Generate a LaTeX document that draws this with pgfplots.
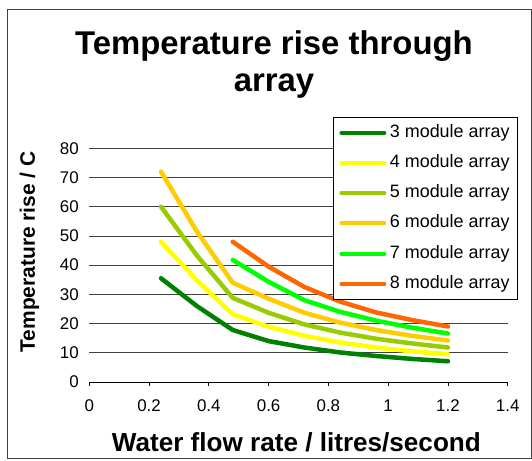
\documentclass[border=0pt]{standalone}
\usepackage{fontspec}
\setmainfont{Liberation Sans}
\usepackage{pgfplots}
\pgfplotsset{compat=1.18}
\definecolor{c3}{HTML}{008000}
\definecolor{c4}{HTML}{FFFF00}
\definecolor{c5}{HTML}{99CC00}
\definecolor{c6}{HTML}{FFCC00}
\definecolor{c7}{HTML}{00FF00}
\definecolor{c8}{HTML}{FF6600}
\begin{document}
\begin{tikzpicture}
\path[use as bounding box] (0bp,0bp) rectangle (532bp,461bp);
\draw[line width=1bp, black!75] (7.5bp,2bp) rectangle (531bp,451bp);
\node[anchor=base, font=\bfseries\fontsize{33}{37}\selectfont] at (274bp,406bp) {Temperature rise through};
\node[anchor=base, font=\bfseries\fontsize{33}{37}\selectfont] at (274bp,369bp) {array};
\begin{axis}[
  at={(89.3bp,79bp)}, anchor=south west,
  scale only axis, width=418.4bp, height=233.7bp,
  xmin=0, xmax=1.4, ymin=0, ymax=80,
  xtick={0,0.2,...,1.4}, ytick={0,10,...,80},
  xticklabels={0,0.2,0.4,0.6,0.8,1,1.2,1.4},
  axis x line*=bottom, axis y line*=left,
  y axis line style={draw=none},
  x axis line style={black, line width=0.8bp, -},
  ytick style={draw=none},
  xtick style={black, line width=0.8bp},
  tick align=outside, major tick length=4bp,
  ymajorgrids, grid style={black!75, line width=0.8bp},
  /pgf/number format/assume math mode=true,
  tick label style={font=\fontsize{17}{17}\selectfont},
  xticklabel style={yshift=-10bp},
  yticklabel style={xshift=-3bp, /pgf/number format/fixed},
  xlabel={Water flow rate / litres/second},
  ylabel={Temperature rise / C},
  xlabel style={font=\bfseries\fontsize{26.2}{26}\selectfont, at={(axis description cs:0.495,-0.2995)}, anchor=base},
  ylabel style={font=\bfseries\fontsize{21}{21}\selectfont, at={(axis description cs:-0.1298,0.5563)}, anchor=base, rotate=0},
  legend style={at={(axis description cs:0.5825,1.134)}, anchor=north west,
    draw=black, line width=0.8bp, fill=white, font=\fontsize{18}{18}\selectfont,
    inner xsep=6bp, inner ysep=5.5bp, row sep=10.2bp,
    nodes={inner sep=1.5bp, text height=13bp, text depth=4bp},
    /tikz/every odd column/.append style={column sep=2bp}},
  legend cell align=left,
  legend image code/.code={\draw[#1, line width=4bp, line cap=round] (0bp,0bp) -- (43bp,0bp);},
  every axis plot/.append style={line width=4.5bp, line join=round, line cap=round},
]
\addplot[c3] coordinates {(0.24,35.5) (0.36,26.0) (0.48,17.8) (0.60,14.0) (0.72,11.8) (0.84,10.1) (0.96,8.9) (1.08,7.9) (1.20,7.1)};
\addplot[c4] coordinates {(0.24,48.0) (0.36,34.8) (0.48,23.2) (0.60,18.9) (0.72,15.8) (0.84,13.5) (0.96,11.8) (1.08,10.5) (1.20,9.5)};
\addplot[c5] coordinates {(0.24,60.0) (0.36,43.3) (0.48,28.8) (0.60,23.7) (0.72,19.7) (0.84,16.9) (0.96,14.8) (1.08,13.2) (1.20,11.8)};
\addplot[c6] coordinates {(0.24,72.0) (0.36,51.5) (0.48,34.0) (0.60,28.5) (0.72,23.7) (0.84,20.3) (0.96,17.8) (1.08,15.8) (1.20,14.2)};
\addplot[c7] coordinates {(0.48,41.8) (0.60,34.3) (0.72,28.0) (0.84,24.0) (0.96,21.0) (1.08,18.6) (1.20,16.6)};
\addplot[c8] coordinates {(0.48,48.0) (0.60,39.5) (0.72,32.5) (0.84,27.5) (0.96,23.8) (1.08,21.2) (1.20,19.0)};
\legend{3 module array, 4 module array, 5 module array, 6 module array, 7 module array, 8 module array}
\end{axis}
\end{tikzpicture}
\end{document}
